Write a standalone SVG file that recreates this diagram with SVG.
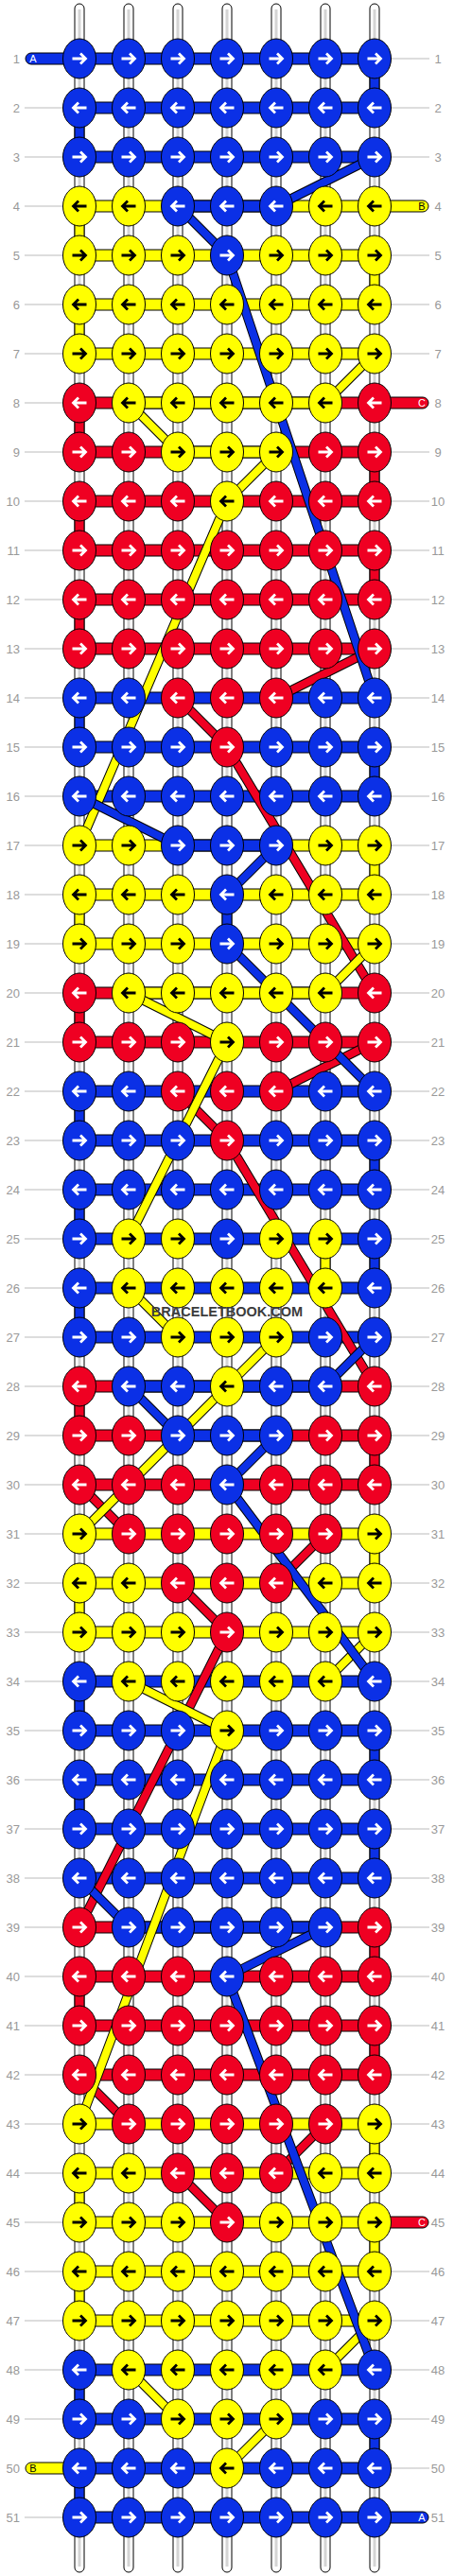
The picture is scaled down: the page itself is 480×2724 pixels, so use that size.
<svg xmlns="http://www.w3.org/2000/svg" width="480" height="2724" viewBox="0 0 480 2724">
<style>
.b{fill:#0b30e6}.y{fill:#ffff00}.r{fill:#ef0022}
.lb{font-family:"Liberation Sans",Arial,sans-serif;font-size:13px;fill:#999}
.tl{font-family:"Liberation Sans",Arial,sans-serif;font-size:11px;text-anchor:middle}
.aw{stroke:#fff;stroke-width:2.8;fill:none}
.ak{stroke:#000;stroke-width:2.8;fill:none}
.dk{stroke:#000;stroke-width:10;fill:none}
.dB{stroke:#0b30e6;stroke-width:8;fill:none}
.dY{stroke:#ffff00;stroke-width:8;fill:none}
.dR{stroke:#ef0022;stroke-width:8;fill:none}
ellipse{stroke:#000;stroke-width:1}
</style>
<defs>
<g id="BR"><ellipse rx="17.5" ry="21" class="b"/><path d="M-7.5,0H6M1,-5.5L6.5,0L1,5.5" class="aw"/></g>
<g id="BL"><ellipse rx="17.5" ry="21" class="b"/><path d="M7.5,0H-6M-1,-5.5L-6.5,0L-1,5.5" class="aw"/></g>
<g id="RR"><ellipse rx="17.5" ry="21" class="r"/><path d="M-7.5,0H6M1,-5.5L6.5,0L1,5.5" class="aw"/></g>
<g id="RL"><ellipse rx="17.5" ry="21" class="r"/><path d="M7.5,0H-6M-1,-5.5L-6.5,0L-1,5.5" class="aw"/></g>
<g id="YR"><ellipse rx="17.5" ry="21" class="y"/><path d="M-7.5,0H6M1,-5.5L6.5,0L1,5.5" class="ak"/></g>
<g id="YL"><ellipse rx="17.5" ry="21" class="y"/><path d="M7.5,0H-6M-1,-5.5L-6.5,0L-1,5.5" class="ak"/></g>
<path id="pA" d="M396,166L292,218M188,218L240,270M240,270L396,738M84,842L188,894M292,894L240,946M240,998L396,1154M396,1414L344,1466M136,1466L188,1518M292,1518L240,1570M240,1570L396,1778M84,1986L136,2038M344,2038L240,2090M240,2090L396,2506"/>
<path id="pB" d="M396,374L344,426M136,426L188,478M292,478L240,530M240,530L84,894M396,998L344,1050M136,1050L240,1102M240,1102L136,1310M136,1362L188,1414M292,1414L240,1466M240,1466L84,1622M396,1726L344,1778M136,1778L240,1830M240,1830L84,2246M396,2454L344,2506M136,2506L188,2558M292,2558L240,2610"/>
<path id="pC" d="M396,686L292,738M188,738L240,790M240,790L396,1050M396,1102L292,1154M188,1154L240,1206M240,1206L396,1466M84,1570L136,1622M344,1622L292,1674M188,1674L240,1726M240,1726L84,2038M84,2194L136,2246M344,2246L292,2298M188,2298L240,2350"/>
</defs>
<rect width="480" height="2724" fill="#fff"/>
<g id="row-labels">
<path stroke="#bbb" stroke-width="1" d="M26,114H66M26,166H66M26,218H66M26,270H66M26,322H66M26,374H66M26,426H66M26,478H66M26,530H66M26,582H66M26,634H66M26,686H66M26,738H66M26,790H66M26,842H66M26,894H66M26,946H66M26,998H66M26,1050H66M26,1102H66M26,1154H66M26,1206H66M26,1258H66M26,1310H66M26,1362H66M26,1414H66M26,1466H66M26,1518H66M26,1570H66M26,1622H66M26,1674H66M26,1726H66M26,1778H66M26,1830H66M26,1882H66M26,1934H66M26,1986H66M26,2038H66M26,2090H66M26,2142H66M26,2194H66M26,2246H66M26,2298H66M26,2350H66M26,2402H66M26,2454H66M26,2506H66M26,2558H66M26,2662H66M414,62H454M414,114H454M414,166H454M414,270H454M414,322H454M414,374H454M414,478H454M414,530H454M414,582H454M414,634H454M414,686H454M414,738H454M414,790H454M414,842H454M414,894H454M414,946H454M414,998H454M414,1050H454M414,1102H454M414,1154H454M414,1206H454M414,1258H454M414,1310H454M414,1362H454M414,1414H454M414,1466H454M414,1518H454M414,1570H454M414,1622H454M414,1674H454M414,1726H454M414,1778H454M414,1830H454M414,1882H454M414,1934H454M414,1986H454M414,2038H454M414,2090H454M414,2142H454M414,2194H454M414,2246H454M414,2298H454M414,2402H454M414,2454H454M414,2506H454M414,2558H454M414,2610H454"/>
<g class="lb" text-anchor="end">
<text x="21" y="66.5">1</text><text x="21" y="118.5">2</text><text x="21" y="170.5">3</text><text x="21" y="222.5">4</text><text x="21" y="274.5">5</text><text x="21" y="326.5">6</text><text x="21" y="378.5">7</text><text x="21" y="430.5">8</text><text x="21" y="482.5">9</text><text x="21" y="534.5">10</text><text x="21" y="586.5">11</text><text x="21" y="638.5">12</text><text x="21" y="690.5">13</text><text x="21" y="742.5">14</text><text x="21" y="794.5">15</text><text x="21" y="846.5">16</text><text x="21" y="898.5">17</text><text x="21" y="950.5">18</text><text x="21" y="1002.5">19</text><text x="21" y="1054.5">20</text><text x="21" y="1106.5">21</text><text x="21" y="1158.5">22</text><text x="21" y="1210.5">23</text><text x="21" y="1262.5">24</text><text x="21" y="1314.5">25</text><text x="21" y="1366.5">26</text><text x="21" y="1418.5">27</text><text x="21" y="1470.5">28</text><text x="21" y="1522.5">29</text><text x="21" y="1574.5">30</text><text x="21" y="1626.5">31</text><text x="21" y="1678.5">32</text><text x="21" y="1730.5">33</text><text x="21" y="1782.5">34</text><text x="21" y="1834.5">35</text><text x="21" y="1886.5">36</text><text x="21" y="1938.5">37</text><text x="21" y="1990.5">38</text><text x="21" y="2042.5">39</text><text x="21" y="2094.5">40</text><text x="21" y="2146.5">41</text><text x="21" y="2198.5">42</text><text x="21" y="2250.5">43</text><text x="21" y="2302.5">44</text><text x="21" y="2354.5">45</text><text x="21" y="2406.5">46</text><text x="21" y="2458.5">47</text><text x="21" y="2510.5">48</text><text x="21" y="2562.5">49</text><text x="21" y="2614.5">50</text><text x="21" y="2666.5">51</text>
</g>
<g class="lb" text-anchor="middle">
<text x="463" y="66.5">1</text><text x="463" y="118.5">2</text><text x="463" y="170.5">3</text><text x="463" y="222.5">4</text><text x="463" y="274.5">5</text><text x="463" y="326.5">6</text><text x="463" y="378.5">7</text><text x="463" y="430.5">8</text><text x="463" y="482.5">9</text><text x="463" y="534.5">10</text><text x="463" y="586.5">11</text><text x="463" y="638.5">12</text><text x="463" y="690.5">13</text><text x="463" y="742.5">14</text><text x="463" y="794.5">15</text><text x="463" y="846.5">16</text><text x="463" y="898.5">17</text><text x="463" y="950.5">18</text><text x="463" y="1002.5">19</text><text x="463" y="1054.5">20</text><text x="463" y="1106.5">21</text><text x="463" y="1158.5">22</text><text x="463" y="1210.5">23</text><text x="463" y="1262.5">24</text><text x="463" y="1314.5">25</text><text x="463" y="1366.5">26</text><text x="463" y="1418.5">27</text><text x="463" y="1470.5">28</text><text x="463" y="1522.5">29</text><text x="463" y="1574.5">30</text><text x="463" y="1626.5">31</text><text x="463" y="1678.5">32</text><text x="463" y="1730.5">33</text><text x="463" y="1782.5">34</text><text x="463" y="1834.5">35</text><text x="463" y="1886.5">36</text><text x="463" y="1938.5">37</text><text x="463" y="1990.5">38</text><text x="463" y="2042.5">39</text><text x="463" y="2094.5">40</text><text x="463" y="2146.5">41</text><text x="463" y="2198.5">42</text><text x="463" y="2250.5">43</text><text x="463" y="2302.5">44</text><text x="463" y="2354.5">45</text><text x="463" y="2406.5">46</text><text x="463" y="2458.5">47</text><text x="463" y="2510.5">48</text><text x="463" y="2562.5">49</text><text x="463" y="2614.5">50</text><text x="463" y="2666.5">51</text>
</g>
</g>
<g id="connectors">
<g id="base-strings" fill="#fff" stroke="#000" stroke-width="1">
<rect x="79" y="4" width="10" height="2716" rx="5"/><rect x="131" y="4" width="10" height="2716" rx="5"/><rect x="183" y="4" width="10" height="2716" rx="5"/><rect x="235" y="4" width="10" height="2716" rx="5"/><rect x="287" y="4" width="10" height="2716" rx="5"/><rect x="339" y="4" width="10" height="2716" rx="5"/><rect x="391" y="4" width="10" height="2716" rx="5"/>
<path stroke="#d4d4d4" stroke-width="3" d="M84,10V2714M136,10V2714M188,10V2714M240,10V2714M292,10V2714M344,10V2714M396,10V2714"/>
</g>
<g id="row-threads" stroke="#000" stroke-width="1">
<rect x="84" y="56" width="312" height="12" class="b"/><rect x="84" y="108" width="312" height="12" class="b"/><rect x="84" y="160" width="312" height="12" class="b"/>
<rect x="84" y="212" width="312" height="12" class="y"/><rect x="188" y="212" width="104" height="12" class="b"/>
<rect x="84" y="264" width="312" height="12" class="y"/><rect x="84" y="316" width="312" height="12" class="y"/><rect x="84" y="368" width="312" height="12" class="y"/>
<rect x="84" y="420" width="312" height="12" class="r"/><rect x="136" y="420" width="208" height="12" class="y"/>
<rect x="84" y="472" width="312" height="12" class="r"/><rect x="188" y="472" width="104" height="12" class="y"/>
<rect x="84" y="524" width="312" height="12" class="r"/><rect x="84" y="576" width="312" height="12" class="r"/><rect x="84" y="628" width="312" height="12" class="r"/><rect x="84" y="680" width="312" height="12" class="r"/>
<rect x="84" y="732" width="312" height="12" class="b"/><rect x="84" y="784" width="312" height="12" class="b"/><rect x="84" y="836" width="312" height="12" class="b"/>
<rect x="84" y="888" width="312" height="12" class="y"/><rect x="188" y="888" width="104" height="12" class="b"/>
<rect x="84" y="940" width="312" height="12" class="y"/><rect x="84" y="992" width="312" height="12" class="y"/>
<rect x="84" y="1044" width="312" height="12" class="r"/><rect x="136" y="1044" width="208" height="12" class="y"/>
<rect x="84" y="1096" width="312" height="12" class="r"/>
<rect x="84" y="1148" width="312" height="12" class="b"/><rect x="84" y="1200" width="312" height="12" class="b"/><rect x="84" y="1252" width="312" height="12" class="b"/><rect x="84" y="1304" width="312" height="12" class="b"/><rect x="84" y="1356" width="312" height="12" class="b"/><rect x="84" y="1408" width="312" height="12" class="b"/>
<rect x="84" y="1460" width="312" height="12" class="r"/><rect x="136" y="1460" width="208" height="12" class="b"/>
<rect x="84" y="1512" width="312" height="12" class="r"/><rect x="188" y="1512" width="104" height="12" class="b"/>
<rect x="84" y="1564" width="312" height="12" class="r"/>
<rect x="84" y="1616" width="312" height="12" class="y"/><rect x="84" y="1668" width="312" height="12" class="y"/><rect x="84" y="1720" width="312" height="12" class="y"/>
<rect x="84" y="1772" width="312" height="12" class="b"/><rect x="84" y="1824" width="312" height="12" class="b"/><rect x="84" y="1876" width="312" height="12" class="b"/><rect x="84" y="1928" width="312" height="12" class="b"/><rect x="84" y="1980" width="312" height="12" class="b"/>
<rect x="84" y="2032" width="312" height="12" class="r"/><rect x="136" y="2032" width="208" height="12" class="b"/>
<rect x="84" y="2084" width="312" height="12" class="r"/><rect x="84" y="2136" width="312" height="12" class="r"/><rect x="84" y="2188" width="312" height="12" class="r"/>
<rect x="84" y="2240" width="312" height="12" class="y"/><rect x="84" y="2292" width="312" height="12" class="y"/><rect x="84" y="2344" width="312" height="12" class="y"/><rect x="84" y="2396" width="312" height="12" class="y"/><rect x="84" y="2448" width="312" height="12" class="y"/>
<rect x="84" y="2500" width="312" height="12" class="b"/><rect x="84" y="2552" width="312" height="12" class="b"/><rect x="84" y="2604" width="312" height="12" class="b"/><rect x="84" y="2656" width="312" height="12" class="b"/>
</g>
<g id="ends" stroke="#000" stroke-width="1">
<rect x="27" y="56" width="63" height="12" rx="6" class="b"/>
<rect x="390" y="212" width="63" height="12" rx="6" class="y"/>
<rect x="390" y="420" width="63" height="12" rx="6" class="r"/>
<rect x="390" y="2344" width="63" height="12" rx="6" class="r"/>
<rect x="27" y="2604" width="63" height="12" rx="6" class="y"/>
<rect x="390" y="2656" width="63" height="12" rx="6" class="b"/>
</g>
<g class="tl">
<text x="35" y="66" fill="#fff">A</text>
<text x="446" y="222" fill="#000">B</text>
<text x="446" y="430" fill="#fff">C</text>
<text x="446" y="2354" fill="#fff">C</text>
<text x="35" y="2614" fill="#000">B</text>
<text x="446" y="2666" fill="#fff">A</text>
</g>
<g id="turns" stroke="#000" stroke-width="1">
<rect x="391" y="78" width="10" height="20" class="b"/><rect x="79" y="130" width="10" height="20" class="b"/>
<rect x="79" y="234" width="10" height="20" class="y"/><rect x="391" y="286" width="10" height="20" class="y"/><rect x="79" y="338" width="10" height="20" class="y"/>
<rect x="79" y="442" width="10" height="20" class="r"/><rect x="391" y="494" width="10" height="20" class="r"/><rect x="79" y="546" width="10" height="20" class="r"/><rect x="391" y="598" width="10" height="20" class="r"/><rect x="79" y="650" width="10" height="20" class="r"/>
<rect x="79" y="754" width="10" height="20" class="b"/><rect x="391" y="806" width="10" height="20" class="b"/>
<rect x="391" y="910" width="10" height="20" class="y"/><rect x="79" y="962" width="10" height="20" class="y"/><rect x="235" y="962" width="10" height="20" class="b"/>
<rect x="79" y="1066" width="10" height="20" class="r"/>
<rect x="79" y="1170" width="10" height="20" class="b"/><rect x="391" y="1222" width="10" height="20" class="b"/><rect x="79" y="1274" width="10" height="20" class="b"/><rect x="391" y="1326" width="10" height="20" class="b"/><rect x="339" y="1326" width="10" height="20" class="y"/><rect x="79" y="1378" width="10" height="20" class="b"/>
<rect x="79" y="1482" width="10" height="20" class="r"/><rect x="391" y="1534" width="10" height="20" class="r"/>
<rect x="391" y="1638" width="10" height="20" class="y"/><rect x="79" y="1690" width="10" height="20" class="y"/>
<rect x="79" y="1794" width="10" height="20" class="b"/><rect x="391" y="1846" width="10" height="20" class="b"/><rect x="79" y="1898" width="10" height="20" class="b"/><rect x="391" y="1950" width="10" height="20" class="b"/>
<rect x="391" y="2054" width="10" height="20" class="r"/><rect x="79" y="2106" width="10" height="20" class="r"/><rect x="391" y="2158" width="10" height="20" class="r"/>
<rect x="391" y="2262" width="10" height="20" class="y"/><rect x="79" y="2314" width="10" height="20" class="y"/><rect x="391" y="2366" width="10" height="20" class="y"/><rect x="79" y="2418" width="10" height="20" class="y"/>
<rect x="79" y="2522" width="10" height="20" class="b"/><rect x="391" y="2574" width="10" height="20" class="b"/><rect x="79" y="2626" width="10" height="20" class="b"/>
</g>
<g id="carried-threads">
<use href="#pC" class="dk"/><use href="#pC" class="dR"/>
<use href="#pB" class="dk"/><use href="#pB" class="dY"/>
<use href="#pA" class="dk"/><use href="#pA" class="dB"/>
</g>
</g>
<g id="knots">
<g id="row1" transform="translate(0,62)"><use id="k1-1" href="#BR" x="84"/><use id="k1-2" href="#BR" x="136"/><use id="k1-3" href="#BR" x="188"/><use id="k1-4" href="#BR" x="240"/><use id="k1-5" href="#BR" x="292"/><use id="k1-6" href="#BR" x="344"/><use id="k1-7" href="#BR" x="396"/></g>
<g id="row2" transform="translate(0,114)"><use id="k2-1" href="#BL" x="84"/><use id="k2-2" href="#BL" x="136"/><use id="k2-3" href="#BL" x="188"/><use id="k2-4" href="#BL" x="240"/><use id="k2-5" href="#BL" x="292"/><use id="k2-6" href="#BL" x="344"/><use id="k2-7" href="#BL" x="396"/></g>
<g id="row3" transform="translate(0,166)"><use id="k3-1" href="#BR" x="84"/><use id="k3-2" href="#BR" x="136"/><use id="k3-3" href="#BR" x="188"/><use id="k3-4" href="#BR" x="240"/><use id="k3-5" href="#BR" x="292"/><use id="k3-6" href="#BR" x="344"/><use id="k3-7" href="#BR" x="396"/></g>
<g id="row4" transform="translate(0,218)"><use id="k4-1" href="#YL" x="84"/><use id="k4-2" href="#YL" x="136"/><use id="k4-3" href="#BL" x="188"/><use id="k4-4" href="#BL" x="240"/><use id="k4-5" href="#BL" x="292"/><use id="k4-6" href="#YL" x="344"/><use id="k4-7" href="#YL" x="396"/></g>
<g id="row5" transform="translate(0,270)"><use id="k5-1" href="#YR" x="84"/><use id="k5-2" href="#YR" x="136"/><use id="k5-3" href="#YR" x="188"/><use id="k5-4" href="#BR" x="240"/><use id="k5-5" href="#YR" x="292"/><use id="k5-6" href="#YR" x="344"/><use id="k5-7" href="#YR" x="396"/></g>
<g id="row6" transform="translate(0,322)"><use id="k6-1" href="#YL" x="84"/><use id="k6-2" href="#YL" x="136"/><use id="k6-3" href="#YL" x="188"/><use id="k6-4" href="#YL" x="240"/><use id="k6-5" href="#YL" x="292"/><use id="k6-6" href="#YL" x="344"/><use id="k6-7" href="#YL" x="396"/></g>
<g id="row7" transform="translate(0,374)"><use id="k7-1" href="#YR" x="84"/><use id="k7-2" href="#YR" x="136"/><use id="k7-3" href="#YR" x="188"/><use id="k7-4" href="#YR" x="240"/><use id="k7-5" href="#YR" x="292"/><use id="k7-6" href="#YR" x="344"/><use id="k7-7" href="#YR" x="396"/></g>
<g id="row8" transform="translate(0,426)"><use id="k8-1" href="#RL" x="84"/><use id="k8-2" href="#YL" x="136"/><use id="k8-3" href="#YL" x="188"/><use id="k8-4" href="#YL" x="240"/><use id="k8-5" href="#YL" x="292"/><use id="k8-6" href="#YL" x="344"/><use id="k8-7" href="#RL" x="396"/></g>
<g id="row9" transform="translate(0,478)"><use id="k9-1" href="#RR" x="84"/><use id="k9-2" href="#RR" x="136"/><use id="k9-3" href="#YR" x="188"/><use id="k9-4" href="#YR" x="240"/><use id="k9-5" href="#YR" x="292"/><use id="k9-6" href="#RR" x="344"/><use id="k9-7" href="#RR" x="396"/></g>
<g id="row10" transform="translate(0,530)"><use id="k10-1" href="#RL" x="84"/><use id="k10-2" href="#RL" x="136"/><use id="k10-3" href="#RL" x="188"/><use id="k10-4" href="#YL" x="240"/><use id="k10-5" href="#RL" x="292"/><use id="k10-6" href="#RL" x="344"/><use id="k10-7" href="#RL" x="396"/></g>
<g id="row11" transform="translate(0,582)"><use id="k11-1" href="#RR" x="84"/><use id="k11-2" href="#RR" x="136"/><use id="k11-3" href="#RR" x="188"/><use id="k11-4" href="#RR" x="240"/><use id="k11-5" href="#RR" x="292"/><use id="k11-6" href="#RR" x="344"/><use id="k11-7" href="#RR" x="396"/></g>
<g id="row12" transform="translate(0,634)"><use id="k12-1" href="#RL" x="84"/><use id="k12-2" href="#RL" x="136"/><use id="k12-3" href="#RL" x="188"/><use id="k12-4" href="#RL" x="240"/><use id="k12-5" href="#RL" x="292"/><use id="k12-6" href="#RL" x="344"/><use id="k12-7" href="#RL" x="396"/></g>
<g id="row13" transform="translate(0,686)"><use id="k13-1" href="#RR" x="84"/><use id="k13-2" href="#RR" x="136"/><use id="k13-3" href="#RR" x="188"/><use id="k13-4" href="#RR" x="240"/><use id="k13-5" href="#RR" x="292"/><use id="k13-6" href="#RR" x="344"/><use id="k13-7" href="#RR" x="396"/></g>
<g id="row14" transform="translate(0,738)"><use id="k14-1" href="#BL" x="84"/><use id="k14-2" href="#BL" x="136"/><use id="k14-3" href="#RL" x="188"/><use id="k14-4" href="#RL" x="240"/><use id="k14-5" href="#RL" x="292"/><use id="k14-6" href="#BL" x="344"/><use id="k14-7" href="#BL" x="396"/></g>
<g id="row15" transform="translate(0,790)"><use id="k15-1" href="#BR" x="84"/><use id="k15-2" href="#BR" x="136"/><use id="k15-3" href="#BR" x="188"/><use id="k15-4" href="#RR" x="240"/><use id="k15-5" href="#BR" x="292"/><use id="k15-6" href="#BR" x="344"/><use id="k15-7" href="#BR" x="396"/></g>
<g id="row16" transform="translate(0,842)"><use id="k16-1" href="#BL" x="84"/><use id="k16-2" href="#BL" x="136"/><use id="k16-3" href="#BL" x="188"/><use id="k16-4" href="#BL" x="240"/><use id="k16-5" href="#BL" x="292"/><use id="k16-6" href="#BL" x="344"/><use id="k16-7" href="#BL" x="396"/></g>
<g id="row17" transform="translate(0,894)"><use id="k17-1" href="#YR" x="84"/><use id="k17-2" href="#YR" x="136"/><use id="k17-3" href="#BR" x="188"/><use id="k17-4" href="#BR" x="240"/><use id="k17-5" href="#BR" x="292"/><use id="k17-6" href="#YR" x="344"/><use id="k17-7" href="#YR" x="396"/></g>
<g id="row18" transform="translate(0,946)"><use id="k18-1" href="#YL" x="84"/><use id="k18-2" href="#YL" x="136"/><use id="k18-3" href="#YL" x="188"/><use id="k18-4" href="#BL" x="240"/><use id="k18-5" href="#YL" x="292"/><use id="k18-6" href="#YL" x="344"/><use id="k18-7" href="#YL" x="396"/></g>
<g id="row19" transform="translate(0,998)"><use id="k19-1" href="#YR" x="84"/><use id="k19-2" href="#YR" x="136"/><use id="k19-3" href="#YR" x="188"/><use id="k19-4" href="#BR" x="240"/><use id="k19-5" href="#YR" x="292"/><use id="k19-6" href="#YR" x="344"/><use id="k19-7" href="#YR" x="396"/></g>
<g id="row20" transform="translate(0,1050)"><use id="k20-1" href="#RL" x="84"/><use id="k20-2" href="#YL" x="136"/><use id="k20-3" href="#YL" x="188"/><use id="k20-4" href="#YL" x="240"/><use id="k20-5" href="#YL" x="292"/><use id="k20-6" href="#YL" x="344"/><use id="k20-7" href="#RL" x="396"/></g>
<g id="row21" transform="translate(0,1102)"><use id="k21-1" href="#RR" x="84"/><use id="k21-2" href="#RR" x="136"/><use id="k21-3" href="#RR" x="188"/><use id="k21-4" href="#YR" x="240"/><use id="k21-5" href="#RR" x="292"/><use id="k21-6" href="#RR" x="344"/><use id="k21-7" href="#RR" x="396"/></g>
<g id="row22" transform="translate(0,1154)"><use id="k22-1" href="#BL" x="84"/><use id="k22-2" href="#BL" x="136"/><use id="k22-3" href="#RL" x="188"/><use id="k22-4" href="#RL" x="240"/><use id="k22-5" href="#RL" x="292"/><use id="k22-6" href="#BL" x="344"/><use id="k22-7" href="#BL" x="396"/></g>
<g id="row23" transform="translate(0,1206)"><use id="k23-1" href="#BR" x="84"/><use id="k23-2" href="#BR" x="136"/><use id="k23-3" href="#BR" x="188"/><use id="k23-4" href="#RR" x="240"/><use id="k23-5" href="#BR" x="292"/><use id="k23-6" href="#BR" x="344"/><use id="k23-7" href="#BR" x="396"/></g>
<g id="row24" transform="translate(0,1258)"><use id="k24-1" href="#BL" x="84"/><use id="k24-2" href="#BL" x="136"/><use id="k24-3" href="#BL" x="188"/><use id="k24-4" href="#BL" x="240"/><use id="k24-5" href="#BL" x="292"/><use id="k24-6" href="#BL" x="344"/><use id="k24-7" href="#BL" x="396"/></g>
<g id="row25" transform="translate(0,1310)"><use id="k25-1" href="#BR" x="84"/><use id="k25-2" href="#YR" x="136"/><use id="k25-3" href="#YR" x="188"/><use id="k25-4" href="#BR" x="240"/><use id="k25-5" href="#YR" x="292"/><use id="k25-6" href="#YR" x="344"/><use id="k25-7" href="#BR" x="396"/></g>
<g id="row26" transform="translate(0,1362)"><use id="k26-1" href="#BL" x="84"/><use id="k26-2" href="#YL" x="136"/><use id="k26-3" href="#YL" x="188"/><use id="k26-4" href="#YL" x="240"/><use id="k26-5" href="#YL" x="292"/><use id="k26-6" href="#YL" x="344"/><use id="k26-7" href="#BL" x="396"/></g>
<g id="row27" transform="translate(0,1414)"><use id="k27-1" href="#BR" x="84"/><use id="k27-2" href="#BR" x="136"/><use id="k27-3" href="#YR" x="188"/><use id="k27-4" href="#YR" x="240"/><use id="k27-5" href="#YR" x="292"/><use id="k27-6" href="#BR" x="344"/><use id="k27-7" href="#BR" x="396"/></g>
<g id="row28" transform="translate(0,1466)"><use id="k28-1" href="#RL" x="84"/><use id="k28-2" href="#BL" x="136"/><use id="k28-3" href="#BL" x="188"/><use id="k28-4" href="#YL" x="240"/><use id="k28-5" href="#BL" x="292"/><use id="k28-6" href="#BL" x="344"/><use id="k28-7" href="#RL" x="396"/></g>
<g id="row29" transform="translate(0,1518)"><use id="k29-1" href="#RR" x="84"/><use id="k29-2" href="#RR" x="136"/><use id="k29-3" href="#BR" x="188"/><use id="k29-4" href="#BR" x="240"/><use id="k29-5" href="#BR" x="292"/><use id="k29-6" href="#RR" x="344"/><use id="k29-7" href="#RR" x="396"/></g>
<g id="row30" transform="translate(0,1570)"><use id="k30-1" href="#RL" x="84"/><use id="k30-2" href="#RL" x="136"/><use id="k30-3" href="#RL" x="188"/><use id="k30-4" href="#BL" x="240"/><use id="k30-5" href="#RL" x="292"/><use id="k30-6" href="#RL" x="344"/><use id="k30-7" href="#RL" x="396"/></g>
<g id="row31" transform="translate(0,1622)"><use id="k31-1" href="#YR" x="84"/><use id="k31-2" href="#RR" x="136"/><use id="k31-3" href="#RR" x="188"/><use id="k31-4" href="#RR" x="240"/><use id="k31-5" href="#RR" x="292"/><use id="k31-6" href="#RR" x="344"/><use id="k31-7" href="#YR" x="396"/></g>
<g id="row32" transform="translate(0,1674)"><use id="k32-1" href="#YL" x="84"/><use id="k32-2" href="#YL" x="136"/><use id="k32-3" href="#RL" x="188"/><use id="k32-4" href="#RL" x="240"/><use id="k32-5" href="#RL" x="292"/><use id="k32-6" href="#YL" x="344"/><use id="k32-7" href="#YL" x="396"/></g>
<g id="row33" transform="translate(0,1726)"><use id="k33-1" href="#YR" x="84"/><use id="k33-2" href="#YR" x="136"/><use id="k33-3" href="#YR" x="188"/><use id="k33-4" href="#RR" x="240"/><use id="k33-5" href="#YR" x="292"/><use id="k33-6" href="#YR" x="344"/><use id="k33-7" href="#YR" x="396"/></g>
<g id="row34" transform="translate(0,1778)"><use id="k34-1" href="#BL" x="84"/><use id="k34-2" href="#YL" x="136"/><use id="k34-3" href="#YL" x="188"/><use id="k34-4" href="#YL" x="240"/><use id="k34-5" href="#YL" x="292"/><use id="k34-6" href="#YL" x="344"/><use id="k34-7" href="#BL" x="396"/></g>
<g id="row35" transform="translate(0,1830)"><use id="k35-1" href="#BR" x="84"/><use id="k35-2" href="#BR" x="136"/><use id="k35-3" href="#BR" x="188"/><use id="k35-4" href="#YR" x="240"/><use id="k35-5" href="#BR" x="292"/><use id="k35-6" href="#BR" x="344"/><use id="k35-7" href="#BR" x="396"/></g>
<g id="row36" transform="translate(0,1882)"><use id="k36-1" href="#BL" x="84"/><use id="k36-2" href="#BL" x="136"/><use id="k36-3" href="#BL" x="188"/><use id="k36-4" href="#BL" x="240"/><use id="k36-5" href="#BL" x="292"/><use id="k36-6" href="#BL" x="344"/><use id="k36-7" href="#BL" x="396"/></g>
<g id="row37" transform="translate(0,1934)"><use id="k37-1" href="#BR" x="84"/><use id="k37-2" href="#BR" x="136"/><use id="k37-3" href="#BR" x="188"/><use id="k37-4" href="#BR" x="240"/><use id="k37-5" href="#BR" x="292"/><use id="k37-6" href="#BR" x="344"/><use id="k37-7" href="#BR" x="396"/></g>
<g id="row38" transform="translate(0,1986)"><use id="k38-1" href="#BL" x="84"/><use id="k38-2" href="#BL" x="136"/><use id="k38-3" href="#BL" x="188"/><use id="k38-4" href="#BL" x="240"/><use id="k38-5" href="#BL" x="292"/><use id="k38-6" href="#BL" x="344"/><use id="k38-7" href="#BL" x="396"/></g>
<g id="row39" transform="translate(0,2038)"><use id="k39-1" href="#RR" x="84"/><use id="k39-2" href="#BR" x="136"/><use id="k39-3" href="#BR" x="188"/><use id="k39-4" href="#BR" x="240"/><use id="k39-5" href="#BR" x="292"/><use id="k39-6" href="#BR" x="344"/><use id="k39-7" href="#RR" x="396"/></g>
<g id="row40" transform="translate(0,2090)"><use id="k40-1" href="#RL" x="84"/><use id="k40-2" href="#RL" x="136"/><use id="k40-3" href="#RL" x="188"/><use id="k40-4" href="#BL" x="240"/><use id="k40-5" href="#RL" x="292"/><use id="k40-6" href="#RL" x="344"/><use id="k40-7" href="#RL" x="396"/></g>
<g id="row41" transform="translate(0,2142)"><use id="k41-1" href="#RR" x="84"/><use id="k41-2" href="#RR" x="136"/><use id="k41-3" href="#RR" x="188"/><use id="k41-4" href="#RR" x="240"/><use id="k41-5" href="#RR" x="292"/><use id="k41-6" href="#RR" x="344"/><use id="k41-7" href="#RR" x="396"/></g>
<g id="row42" transform="translate(0,2194)"><use id="k42-1" href="#RL" x="84"/><use id="k42-2" href="#RL" x="136"/><use id="k42-3" href="#RL" x="188"/><use id="k42-4" href="#RL" x="240"/><use id="k42-5" href="#RL" x="292"/><use id="k42-6" href="#RL" x="344"/><use id="k42-7" href="#RL" x="396"/></g>
<g id="row43" transform="translate(0,2246)"><use id="k43-1" href="#YR" x="84"/><use id="k43-2" href="#RR" x="136"/><use id="k43-3" href="#RR" x="188"/><use id="k43-4" href="#RR" x="240"/><use id="k43-5" href="#RR" x="292"/><use id="k43-6" href="#RR" x="344"/><use id="k43-7" href="#YR" x="396"/></g>
<g id="row44" transform="translate(0,2298)"><use id="k44-1" href="#YL" x="84"/><use id="k44-2" href="#YL" x="136"/><use id="k44-3" href="#RL" x="188"/><use id="k44-4" href="#RL" x="240"/><use id="k44-5" href="#RL" x="292"/><use id="k44-6" href="#YL" x="344"/><use id="k44-7" href="#YL" x="396"/></g>
<g id="row45" transform="translate(0,2350)"><use id="k45-1" href="#YR" x="84"/><use id="k45-2" href="#YR" x="136"/><use id="k45-3" href="#YR" x="188"/><use id="k45-4" href="#RR" x="240"/><use id="k45-5" href="#YR" x="292"/><use id="k45-6" href="#YR" x="344"/><use id="k45-7" href="#YR" x="396"/></g>
<g id="row46" transform="translate(0,2402)"><use id="k46-1" href="#YL" x="84"/><use id="k46-2" href="#YL" x="136"/><use id="k46-3" href="#YL" x="188"/><use id="k46-4" href="#YL" x="240"/><use id="k46-5" href="#YL" x="292"/><use id="k46-6" href="#YL" x="344"/><use id="k46-7" href="#YL" x="396"/></g>
<g id="row47" transform="translate(0,2454)"><use id="k47-1" href="#YR" x="84"/><use id="k47-2" href="#YR" x="136"/><use id="k47-3" href="#YR" x="188"/><use id="k47-4" href="#YR" x="240"/><use id="k47-5" href="#YR" x="292"/><use id="k47-6" href="#YR" x="344"/><use id="k47-7" href="#YR" x="396"/></g>
<g id="row48" transform="translate(0,2506)"><use id="k48-1" href="#BL" x="84"/><use id="k48-2" href="#YL" x="136"/><use id="k48-3" href="#YL" x="188"/><use id="k48-4" href="#YL" x="240"/><use id="k48-5" href="#YL" x="292"/><use id="k48-6" href="#YL" x="344"/><use id="k48-7" href="#BL" x="396"/></g>
<g id="row49" transform="translate(0,2558)"><use id="k49-1" href="#BR" x="84"/><use id="k49-2" href="#BR" x="136"/><use id="k49-3" href="#YR" x="188"/><use id="k49-4" href="#YR" x="240"/><use id="k49-5" href="#YR" x="292"/><use id="k49-6" href="#BR" x="344"/><use id="k49-7" href="#BR" x="396"/></g>
<g id="row50" transform="translate(0,2610)"><use id="k50-1" href="#BL" x="84"/><use id="k50-2" href="#BL" x="136"/><use id="k50-3" href="#BL" x="188"/><use id="k50-4" href="#YL" x="240"/><use id="k50-5" href="#BL" x="292"/><use id="k50-6" href="#BL" x="344"/><use id="k50-7" href="#BL" x="396"/></g>
<g id="row51" transform="translate(0,2662)"><use id="k51-1" href="#BR" x="84"/><use id="k51-2" href="#BR" x="136"/><use id="k51-3" href="#BR" x="188"/><use id="k51-4" href="#BR" x="240"/><use id="k51-5" href="#BR" x="292"/><use id="k51-6" href="#BR" x="344"/><use id="k51-7" href="#BR" x="396"/></g>
</g>
<text id="watermark" x="240" y="1392" text-anchor="middle" font-family="'Liberation Sans',Arial,sans-serif" font-weight="bold" font-size="14.5" fill="#3c3c3c">BRACELETBOOK.COM</text>
</svg>
